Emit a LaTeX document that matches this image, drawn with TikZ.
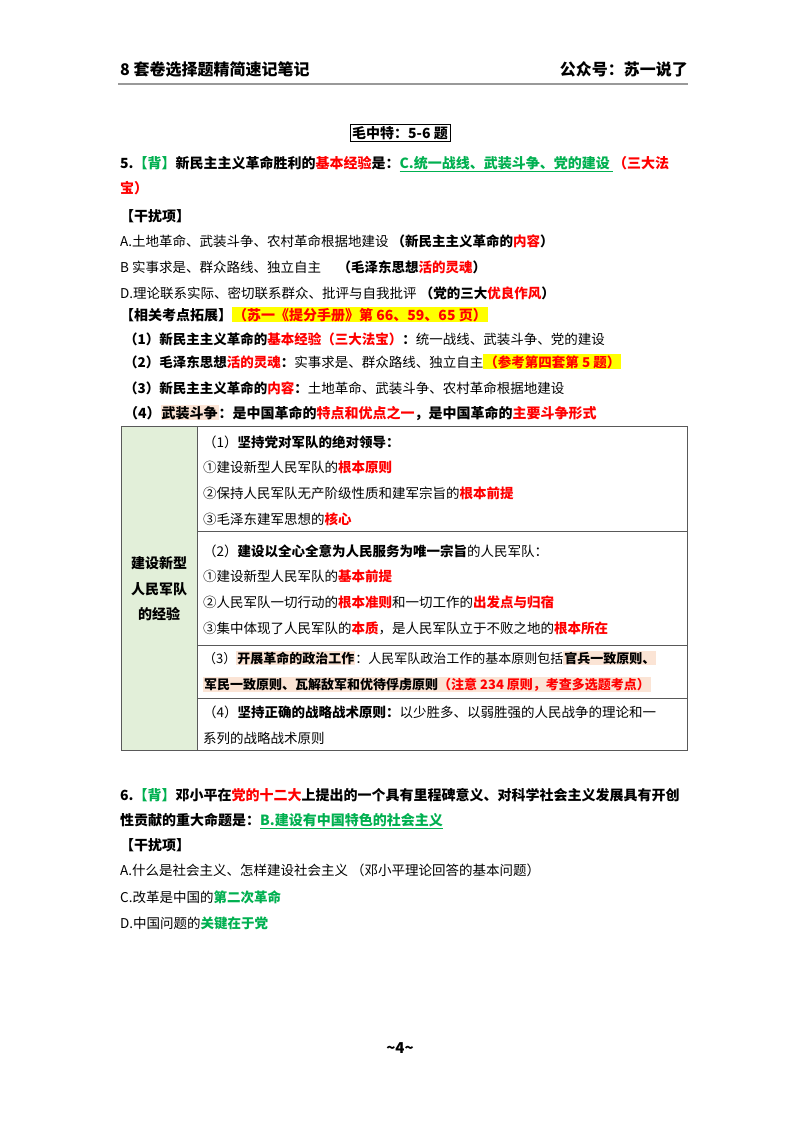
\documentclass[tikz,border=0pt]{standalone}
\usepackage{fontspec}
\setmainfont{Noto Sans CJK SC}
\usepackage{xcolor}
\definecolor{myred}{HTML}{FF0000}
\definecolor{mygreen}{HTML}{00B050}
\definecolor{hlY}{HTML}{FFFF00}
\definecolor{hlO}{HTML}{FBE4D5}
\definecolor{cellG}{HTML}{E2EFD9}
\newcommand{\Rd}[1]{\textcolor{myred}{#1}}
\newcommand{\Gn}[1]{\textcolor{mygreen}{#1}}
\newcommand{\HY}[1]{{\fboxsep=1pt\colorbox{hlY}{#1}}}
\newcommand{\HO}[1]{{\fboxsep=1pt\colorbox{hlO}{#1}}}
\newcommand{\GU}[1]{\textcolor{mygreen}{\underline{#1}}}
\tikzset{
  ln/.style={anchor=base west,inner sep=0pt,font=\fontsize{13.5}{16}\selectfont},
  bl/.style={ln,font=\fontsize{14}{16}\selectfont\bfseries},
}
\begin{document}
\begin{tikzpicture}[x=1pt,y=-1pt]
\useasboundingbox (0,0) rectangle (800,1132);
\fill[white] (0,0) rectangle (800,1132);
% header
\node[bl,font=\fontsize{16}{18}\selectfont\bfseries] (h1) at (120,76) {8 套卷选择题精简速记笔记};
\node[anchor=base east,inner sep=0pt,font=\fontsize{16}{18}\selectfont\bfseries] (h2) at (688,76) {公众号：苏一说了};
\draw[gray!80,line width=1.2pt] (118,84) -- (688,84);
% title
\node[draw,line width=0.6pt,inner sep=2pt,font=\fontsize{14}{16}\selectfont\bfseries] (t) at (400,133) {毛中特：5-6 题};
% Q5
\node[bl] (q5a) at (120,168) {5.\Gn{【背】}新民主主义革命胜利的\Rd{基本经验}是：\GU{C.统一战线、武装斗争、党的建设 }\Rd{（三大法}};
\node[bl] (q5b) at (120,193) {\Rd{宝）}};
\node[bl] (g1) at (120,221) {【干扰项】};
\node[ln] (a1) at (120,246) {A.土地革命、武装斗争、农村革命根据地建设 \textbf{（新民主主义革命的\Rd{内容}）}};
\node[ln] (b1) at (120,272) {B 实事求是、群众路线、独立自主 \quad \textbf{（毛泽东思想\Rd{活的灵魂}）}};
\node[ln] (d1) at (120,298) {D.理论联系实际、密切联系群众、批评与自我批评 \textbf{（党的三大\Rd{优良作风}）}};
\node[bl] (x1) at (120,320) {【相关考点拓展】\HY{\Rd{（苏一《提分手册》第 66、59、65 页）}}};
\node[ln] (x2) at (124,344) {\textbf{（1）新民主主义革命的\Rd{基本经验（三大法宝）}：}统一战线、武装斗争、党的建设};
\node[ln] (x3) at (124,367) {\textbf{（2）毛泽东思想\Rd{活的灵魂}：}实事求是、群众路线、独立自主\HY{\textbf{\Rd{（参考第四套第 5 题）}}}};
\node[ln] (x4) at (124,393) {\textbf{（3）新民主主义革命的\Rd{内容}：}土地革命、武装斗争、农村革命根据地建设};
\node[bl] (x5) at (124,418) {（4）\HO{武装斗争}：是中国革命的\Rd{特点和优点之一}，是中国革命的\Rd{主要斗争形式}};
% table
\fill[cellG] (121,426) rectangle (197,750);
\draw[line width=0.8pt,gray!70!black] (121,426) rectangle (687,750);
\draw[line width=0.8pt,gray!70!black] (197,426) -- (197,750);
\draw[line width=0.8pt,gray!70!black] (197,531) -- (687,531);
\draw[line width=0.8pt,gray!70!black] (197,645) -- (687,645);
\draw[line width=0.8pt,gray!70!black] (197,698) -- (687,698);
\node[bl,anchor=center] (c0a) at (159,563) {建设新型};
\node[bl,anchor=center] (c0b) at (159,589) {人民军队};
\node[bl,anchor=center] (c0c) at (159,614) {的经验};
\node[ln] (r1a) at (203,447) {（1）\textbf{坚持党对军队的绝对领导：}};
\node[ln] (r1b) at (203,472) {①建设新型人民军队的\textbf{\Rd{根本原则}}};
\node[ln] (r1c) at (203,498) {②保持人民军队无产阶级性质和建军宗旨的\textbf{\Rd{根本前提}}};
\node[ln] (r1d) at (203,524) {③毛泽东建军思想的\textbf{\Rd{核心}}};
\node[ln] (r2a) at (203,556) {（2）\textbf{建设以全心全意为人民服务为唯一宗旨}的人民军队：};
\node[ln] (r2b) at (203,581) {①建设新型人民军队的\textbf{\Rd{基本前提}}};
\node[ln] (r2c) at (203,607) {②人民军队一切行动的\textbf{\Rd{根本准则}}和一切工作的\textbf{\Rd{出发点与归宿}}};
\node[ln] (r2d) at (203,633) {③集中体现了人民军队的\textbf{\Rd{本质}}，是人民军队立于不败之地的\textbf{\Rd{根本所在}}};
\node[ln,font=\fontsize{13}{16}\selectfont] (r3a) at (203,663) {（3）\HO{\textbf{开展革命的政治工作}}：人民军队政治工作的基本原则包括\HO{\textbf{官兵一致原则、}}};
\node[ln,font=\fontsize{13}{16}\selectfont] (r3b) at (203,689) {\HO{\textbf{军民一致原则、瓦解敌军和优待俘虏原则}\textbf{\Rd{（注意 234 原则，考查多选题考点）}}}};
\node[ln] (r4a) at (203,717) {（4）\textbf{坚持正确的战略战术原则：}以少胜多、以弱胜强的人民战争的理论和一};
\node[ln] (r4b) at (203,743) {系列的战略战术原则};
% Q6
\node[bl] (q6a) at (120,800) {6.\Gn{【背】}邓小平在\Rd{党的十二大}上提出的一个具有里程碑意义、对科学社会主义发展具有开创};
\node[bl] (q6b) at (120,825) {性贡献的重大命题是：\GU{B.建设有中国特色的社会主义}};
\node[bl] (g2) at (120,850) {【干扰项】};
\node[ln] (a2) at (120,875) {A.什么是社会主义、怎样建设社会主义 （邓小平理论回答的基本问题）};
\node[ln] (c2) at (120,902) {C.改革是中国的\textbf{\Gn{第二次革命}}};
\node[ln] (d2) at (120,928) {D.中国问题的\textbf{\Gn{关键在于党}}};
% footer
\node[inner sep=0pt,font=\fontsize{15}{16}\selectfont\bfseries] (f) at (400,1048) {\textasciitilde 4\textasciitilde};
\end{tikzpicture}
\end{document}
